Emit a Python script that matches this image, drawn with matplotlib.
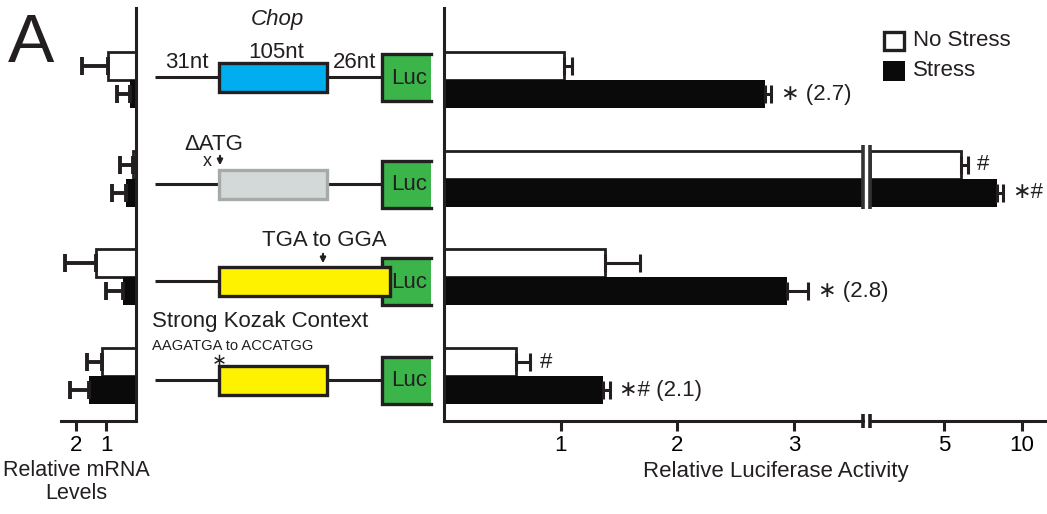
import numpy as np
import matplotlib
matplotlib.use("Agg")
from matplotlib import pyplot as plt
from matplotlib.patches import Rectangle
from matplotlib.transforms import blended_transform_factory

plt.rcParams["font.family"] = ["Liberation Sans", "DejaVu Sans"]

W, H = 1047, 514
INK = "#231f20"
BLACK_BAR = "#0a0a0a"

# reporter constructs, top to bottom
constructs = ["Chop", "dATG", "TGA to GGA", "Strong Kozak"]

# relative mRNA levels (left panel)
mrna_no = [0.95, 0.10, 1.33, 1.14]
mrna_no_err = [0.85, 0.44, 1.05, 0.51]
mrna_st = [0.20, 0.34, 0.45, 1.56]
mrna_st_err = [0.44, 0.45, 0.55, 0.65]
mrna_ticks = [1, 2]

# relative luciferase activity (right panel)
luc_no = [1.03, 5.8, 1.38, 0.62]
luc_no_err = [0.07, 0.35, 0.30, 0.12]
luc_st = [2.75, 8.0, 2.94, 1.36]
luc_st_err = [0.05, 0.40, 0.18, 0.06]
luc_no_marks = ["", "#", "", "#"]
luc_st_marks = ["\u2217 (2.7)", "\u2217#", "\u2217 (2.8)", "\u2217# (2.1)"]
luc_ticks_lo = [1, 2, 3]
luc_ticks_hi = [5, 10]

LO_MAX = 3.59           # end of the linear part of the broken axis
HI_LIM = (2.57, 12.5)   # log part after the break
BH = 0.284              # bar height in row units
ROW_LIM = (3.455, -0.73)

fig = plt.figure(figsize=(W / 100, H / 100), dpi=100)


def px_axes(x0, x1, y_top, y_bot):
    return fig.add_axes([x0 / W, 1 - y_bot / H, (x1 - x0) / W, (y_bot - y_top) / H])


def style(ax, spines):
    for name, sp in ax.spines.items():
        sp.set_visible(name in spines)
        sp.set_linewidth(2.2)
        sp.set_color(INK)
    ax.set_yticks([])
    ax.tick_params(axis="x", length=7, width=2.2, color=INK, labelsize=16, pad=3)
    ax.set_ylim(*ROW_LIM)
    ax.patch.set_alpha(0)


def bars(ax, no, no_err, st, st_err, left=0.0, vmin=0.0, xmax=None, elw=2.2):
    n = len(no)
    for yy, vals, errs, white in [(np.arange(n) - BH / 2, no, no_err, True),
                                  (np.arange(n) + BH / 2, st, st_err, False)]:
        for i in range(n):
            v, e = vals[i], errs[i]
            if v <= vmin:
                continue
            if white:
                ax.barh(yy[i], v - left, left=left, height=BH, color="white",
                        edgecolor=INK, linewidth=2.0, zorder=2)
            else:
                ax.barh(yy[i], v - left, left=left, height=BH, color=BLACK_BAR,
                        linewidth=0, zorder=2)
            if xmax is not None and v + e > xmax:
                continue
            ax.errorbar(v, yy[i], xerr=[[0], [e]], fmt="none", ecolor=INK,
                        elinewidth=elw, capsize=6.5, capthick=elw, zorder=3)


# left panel: mRNA levels, growing to the left
ax_m = px_axes(61, 136, 8, 421)
style(ax_m, ["right", "bottom"])
bars(ax_m, mrna_no, mrna_no_err, mrna_st, mrna_st_err, elw=2.8)
ax_m.set_xlim(2.5, 0)
ax_m.set_xticks(mrna_ticks)

# right panel: luciferase activity on a broken axis
ax_lo = px_axes(444, 863, 8, 421)
style(ax_lo, ["left", "bottom"])
bars(ax_lo, luc_no, luc_no_err, luc_st, luc_st_err, xmax=LO_MAX)
ax_lo.set_xlim(0, LO_MAX)
ax_lo.set_xticks(luc_ticks_lo)

ax_hi = px_axes(870, 1047, 8, 421)
style(ax_hi, ["bottom"])
ax_hi.set_xscale("log")
bars(ax_hi, luc_no, luc_no_err, luc_st, luc_st_err, left=HI_LIM[0], vmin=LO_MAX)
ax_hi.set_xlim(*HI_LIM)
ax_hi.set_xticks(luc_ticks_hi)
ax_hi.set_xticklabels([str(t) for t in luc_ticks_hi])
ax_hi.minorticks_off()

# significance marks next to the error bars
for i in range(len(luc_no)):
    for yy, v, e, txt in [(i - BH / 2, luc_no[i], luc_no_err[i], luc_no_marks[i]),
                          (i + BH / 2, luc_st[i], luc_st_err[i], luc_st_marks[i])]:
        if not txt:
            continue
        ax = ax_hi if v > LO_MAX else ax_lo
        ax.annotate(txt, xy=(v + e, yy), xytext=(7, 0), textcoords="offset points",
                    va="center", ha="left", fontsize=16, color=INK)

# break marks on the axis and through the bars that cross it
for ax, xa in [(ax_lo, 1.0), (ax_hi, 0.0)]:
    ax.plot([xa, xa], [-0.018, 0.016], transform=ax.transAxes, color=INK,
            lw=2.6, clip_on=False, solid_capstyle="butt", zorder=5)
    tr = blended_transform_factory(ax.transAxes, ax.transData)
    for i, v in enumerate(luc_no):
        if max(v, luc_st[i]) > LO_MAX:
            ax.plot([xa, xa], [i - BH - 0.06, i + BH + 0.02], transform=tr,
                    color="#333333", lw=2.6, clip_on=False, solid_capstyle="butt", zorder=5)

fig.text(776 / W, 1 - 472 / H, "Relative Luciferase Activity", ha="center",
         va="center", fontsize=16, color=INK)
fig.text(76 / W, 1 - 482 / H, "Relative mRNA\nLevels", ha="center", va="center",
         fontsize=15.5, color=INK, linespacing=1.15)
fig.text(8 / W, 1 - 62 / H, "A", fontsize=50, color=INK, va="baseline", ha="left")

# construct diagrams drawn in pixel space
ov = fig.add_axes([0, 0, 1, 1])
ov.set_xlim(0, W)
ov.set_ylim(H, 0)
ov.axis("off")

diag_y = [77, 184, 281, 380]
cds_end = [327, 327, 390, 327]
cds_fill = ["#00aeef", "#d2d9d8", "#fff200", "#fff200"]
cds_edge = [INK, "#a6abaa", INK, INK]
for k, yc in enumerate(diag_y):
    ov.plot([155, 382], [yc, yc], color=INK, lw=2.2, zorder=1, solid_capstyle="butt")
    ov.add_patch(Rectangle((382, yc - 23.5), 49, 47, facecolor="#3bb44a",
                           edgecolor="none", zorder=2))
    ov.plot([431, 382, 382, 431], [yc - 23.5, yc - 23.5, yc + 23.5, yc + 23.5],
            color=INK, lw=2.4, zorder=2, solid_joinstyle="miter")
    ov.text(409, yc + 1, "Luc", ha="center", va="center", fontsize=16, color=INK, zorder=4)
    ov.add_patch(Rectangle((219, yc - 14.5), cds_end[k] - 219, 29,
                           facecolor=cds_fill[k], edgecolor=cds_edge[k], lw=2.4, zorder=3))

ov.text(277, 20, "Chop", ha="center", va="center", fontsize=16, style="italic", color=INK)
ov.text(276, 52, "105nt", ha="center", va="center", fontsize=16, color=INK)
ov.text(187, 63, "31nt", ha="center", va="center", fontsize=16, color=INK)
ov.text(355, 63, "26nt", ha="center", va="center", fontsize=16, color=INK)
ov.text(214, 144, "ΔATG", ha="center", va="center", fontsize=16, color=INK)
ov.text(207, 161, "x", ha="center", va="center", fontsize=13, color=INK)
ov.annotate("", xy=(220, 168), xytext=(220, 153),
            arrowprops=dict(arrowstyle="-|>", lw=1.5, color=INK, mutation_scale=8))
ov.text(324, 241, "TGA to GGA", ha="center", va="center", fontsize=16, color=INK)
ov.annotate("", xy=(323, 266), xytext=(323, 251),
            arrowprops=dict(arrowstyle="-|>", lw=1.5, color=INK, mutation_scale=8))
ov.text(152, 322, "Strong Kozak Context", ha="left", va="center", fontsize=16, color=INK)
ov.text(152, 346, "AAGATGA to ACCATGG", ha="left", va="center", fontsize=10.6, color=INK)
ov.text(219, 361, "\u2217", ha="center", va="center", fontsize=13, color=INK)

# legend
ov.add_patch(Rectangle((884, 32), 20, 18, facecolor="white", edgecolor=INK, lw=2.4))
ov.add_patch(Rectangle((883, 61), 22, 20, facecolor=BLACK_BAR, edgecolor="none"))
ov.text(913, 41, "No Stress", ha="left", va="center", fontsize=16, color=INK)
ov.text(913, 71, "Stress", ha="left", va="center", fontsize=16, color=INK)

fig.savefig("out.png", dpi=100)
